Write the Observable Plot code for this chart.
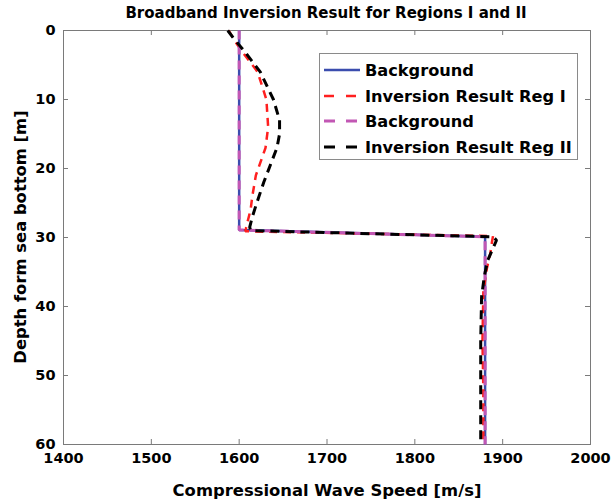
<!DOCTYPE html>
<html>
<head>
<meta charset="utf-8">
<script src="https://cdn.jsdelivr.net/npm/d3@7"></script>
<script src="https://cdn.jsdelivr.net/npm/@observablehq/plot@0.6"></script>
<style>
  html, body { margin: 0; padding: 0; background: #fff; }
  #wrap { position: relative; width: 612px; height: 502px; font-family: "DejaVu Sans", sans-serif; font-weight: bold; color: #000; }
  #chart > svg { position: absolute; left: 0; top: 0; }
  .t { position: absolute; white-space: nowrap; }
  #title { left: 326px; top: 13px; transform: translate(-50%, -50%); font-size: 15px; }
  #xlab { left: 327px; top: 490px; transform: translate(-50%, -50%); font-size: 16.4px; }
  #ylab { left: 20px; top: 237px; transform: translate(-50%, -50%) rotate(-90deg); font-size: 16.4px; }
  #legend { position: absolute; left: 319px; top: 53px; width: 259px; height: 107px; border: 1px solid #8a8a8a; background: #fff; box-sizing: border-box; }
  .row { position: absolute; left: 4px; height: 20px; display: flex; align-items: center; font-size: 16.2px; }
  .row svg { display: block; margin-right: 5px; }
</style>
</head>
<body>
<div id="wrap">
  <div id="chart"></div>
  <div id="title" class="t">Broadband Inversion Result for Regions I and II</div>
  <div id="xlab" class="t">Compressional Wave Speed [m/s]</div>
  <div id="ylab" class="t">Depth form sea bottom [m]</div>
  <div id="legend"></div>
</div>
<script>
// ---- data ----
const xTicks = [1400, 1500, 1600, 1700, 1800, 1900, 2000];
const yTicks = [0, 10, 20, 30, 40, 50, 60];

// Background model (same for both regions)
const bgDepth = [0, 28.9, 29.9, 60];
const bgSpeed = [1600, 1600, 1880, 1880];

// Inversion result, Region I
const reg1Depth = [0, 1.5, 3, 6, 10, 14, 17, 21, 24, 26, 28, 29.1, 29.8, 30.5, 32.3, 34.5, 38, 45, 52, 60];
const reg1Speed = [1588, 1595, 1603, 1621, 1631, 1633, 1630, 1619, 1615, 1613, 1609, 1607, 1889, 1888, 1886, 1882, 1878, 1877, 1878, 1878];

// Inversion result, Region II
const reg2Depth = [0, 1.2, 3, 6, 10, 13, 15, 17, 22, 25, 27, 28.5, 29.0, 29.9, 30.4, 33.3, 35.7, 38.6, 45, 52, 60];
const reg2Speed = [1587, 1594, 1606, 1624, 1639, 1646, 1646, 1643, 1628, 1620, 1615, 1612, 1613, 1889, 1893, 1883, 1879, 1876, 1875, 1875, 1875];

const series = [
  {name: "Background", color: "#3b4dae", dash: null, legendDash: null, width: 2.5},
  {name: "Inversion Result Reg I", color: "#ff1f1f", dash: "8,6", legendDash: "10,12", width: 2.5},
  {name: "Background", color: "#c257b4", dash: "9,6", legendDash: "11,11", width: 3},
  {name: "Inversion Result Reg II", color: "#000000", dash: "9,6", legendDash: "11,11", width: 3}
];

const toRows = (d, s) => d.map((v, i) => ({depth: v, speed: s[i]}));
const rows = [toRows(bgDepth, bgSpeed), toRows(reg1Depth, reg1Speed), toRows(bgDepth, bgSpeed), toRows(reg2Depth, reg2Speed)];

const W = 612, H = 502, mL = 63, mR = 22, mT = 30, mB = 58;
const plotW = W - mL - mR, plotH = H - mT - mB, tk = 5;
const gridColor = "#7a7a7a";

const chart = Plot.plot({
  width: W, height: H,
  marginLeft: mL, marginRight: mR, marginTop: mT, marginBottom: mB,
  style: {fontFamily: "DejaVu Sans, sans-serif", fontWeight: "bold", fontSize: "14.5px", color: "#000", background: "#fff"},
  x: {domain: [1400, 2000]},
  y: {domain: [0, 60], reverse: true},
  marks: [
    Plot.frame({stroke: gridColor}),
    Plot.tickX(xTicks, {x: d => d, stroke: gridColor, insetTop: plotH - tk}),
    Plot.tickX(xTicks, {x: d => d, stroke: gridColor, insetBottom: plotH - tk}),
    Plot.tickY(yTicks, {y: d => d, stroke: gridColor, insetRight: plotW - tk}),
    Plot.tickY(yTicks, {y: d => d, stroke: gridColor, insetLeft: plotW - tk}),
    Plot.axisX(xTicks, {tickSize: 0, tickPadding: 8, label: null, fill: "#000", tickFormat: d => String(d)}),
    Plot.axisY(yTicks, {tickSize: 0, tickPadding: 8, label: null, fill: "#000", tickFormat: d => String(d)}),
    ...series.map((s, i) => Plot.line(rows[i], {
      x: "speed", y: "depth", stroke: s.color, strokeWidth: s.width,
      strokeDasharray: s.dash, strokeLinecap: "butt", strokeLinejoin: "miter"
    }))
  ]
});
document.getElementById("chart").appendChild(chart);

// legend
const legend = document.getElementById("legend");
const rowY = [6, 32, 57, 83];
series.forEach((s, i) => {
  const r = document.createElement("div");
  r.className = "row";
  r.style.top = rowY[i] + "px";
  r.innerHTML = `<svg width="36" height="6"><line x1="0" x2="36" y1="3" y2="3" stroke="${s.color}" stroke-width="${s.width}" ${s.legendDash ? `stroke-dasharray="${s.legendDash}"` : ""}/></svg><span>${s.name}</span>`;
  legend.appendChild(r);
});
</script>
</body>
</html>
